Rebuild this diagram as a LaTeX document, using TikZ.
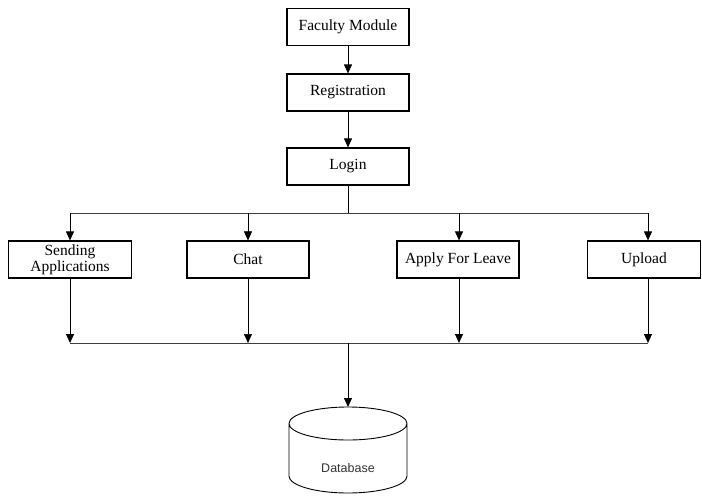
\documentclass[tikz,border=0pt]{standalone}
\usepackage{fontspec}
\setmainfont{Liberation Serif}
\newfontfamily\dbfont{Liberation Sans}
\usetikzlibrary{arrows.meta}
\begin{document}
\begin{tikzpicture}[x=1pt,y=-1pt,
  box/.style={draw,line width=1.2pt,inner sep=0pt,align=center,
    font=\fontsize{15.5}{16}\selectfont},
  link/.style={line width=0.9pt,-{Triangle[length=9pt,width=8pt]}},
  bus/.style={line width=0.8pt,draw=black!75}]
\useasboundingbox (0,0) rectangle (702,499);
% top chain
\node[box,minimum width=122pt,minimum height=37pt] (fac) at (348,27) {Faculty Module};
\node[box,minimum width=122pt,minimum height=37pt] (reg) at (348,92.5) {Registration};
\node[box,minimum width=122pt,minimum height=37pt] (log) at (348,166.5) {Login};
\draw[link] (fac) -- (reg);
\draw[link] (reg) -- (log);
% modules
\node[box,minimum width=123pt,minimum height=37pt] (send) at (70,259.5) {Sending\\Applications};
\node[box,minimum width=122pt,minimum height=37pt] (chat) at (248,259.5) {Chat};
\node[box,minimum width=122pt,minimum height=37pt] (leave) at (458,259.5) {Apply For Leave};
\node[box,minimum width=113pt,minimum height=37pt] (up) at (644,259.5) {Upload};
% upper distribution bus
\coordinate (t0) at (348,213);
\coordinate (t1) at (70,213);
\coordinate (t2) at (248,213);
\coordinate (t3) at (459,213);
\coordinate (t4) at (648,213);
\draw[line width=0.9pt] (log) -- (t0);
\draw[bus] (t1) -- (t4);
\draw[link] (t1) -- (t1 |- send.north);
\draw[link,line width=0.6pt] (t2) -- (t2 |- chat.north);
\draw[link] (t3) -- (t3 |- leave.north);
\draw[link] (t4) -- (t4 |- up.north);
% lower collection bus
\coordinate (b0) at (348,343);
\coordinate (b1) at (70,343);
\coordinate (b2) at (248,343);
\coordinate (b3) at (459,343);
\coordinate (b4) at (648,343);
\draw[bus] (b1) -- (b4);
\draw[link] (b1 |- send.south) -- (b1);
\draw[link,line width=0.6pt] (b2 |- chat.south) -- (b2);
\draw[link] (b3 |- leave.south) -- (b3);
\draw[link] (b4 |- up.south) -- (b4);
% database cylinder
\coordinate (dbtop) at (348,407);
\draw[line width=0.9pt] (289,423.5) arc[start angle=180,end angle=-180,x radius=59pt,y radius=16.5pt]
  (289,423.5) -- (289,476) arc[start angle=180,end angle=360,x radius=59pt,y radius=17pt] -- (407,423.5);
\node[font=\dbfont\fontsize{12.5}{14}\selectfont,text=black!80] (db) at (348,468) {Database};
\draw[link] (b0) -- (dbtop);
\end{tikzpicture}
\end{document}
